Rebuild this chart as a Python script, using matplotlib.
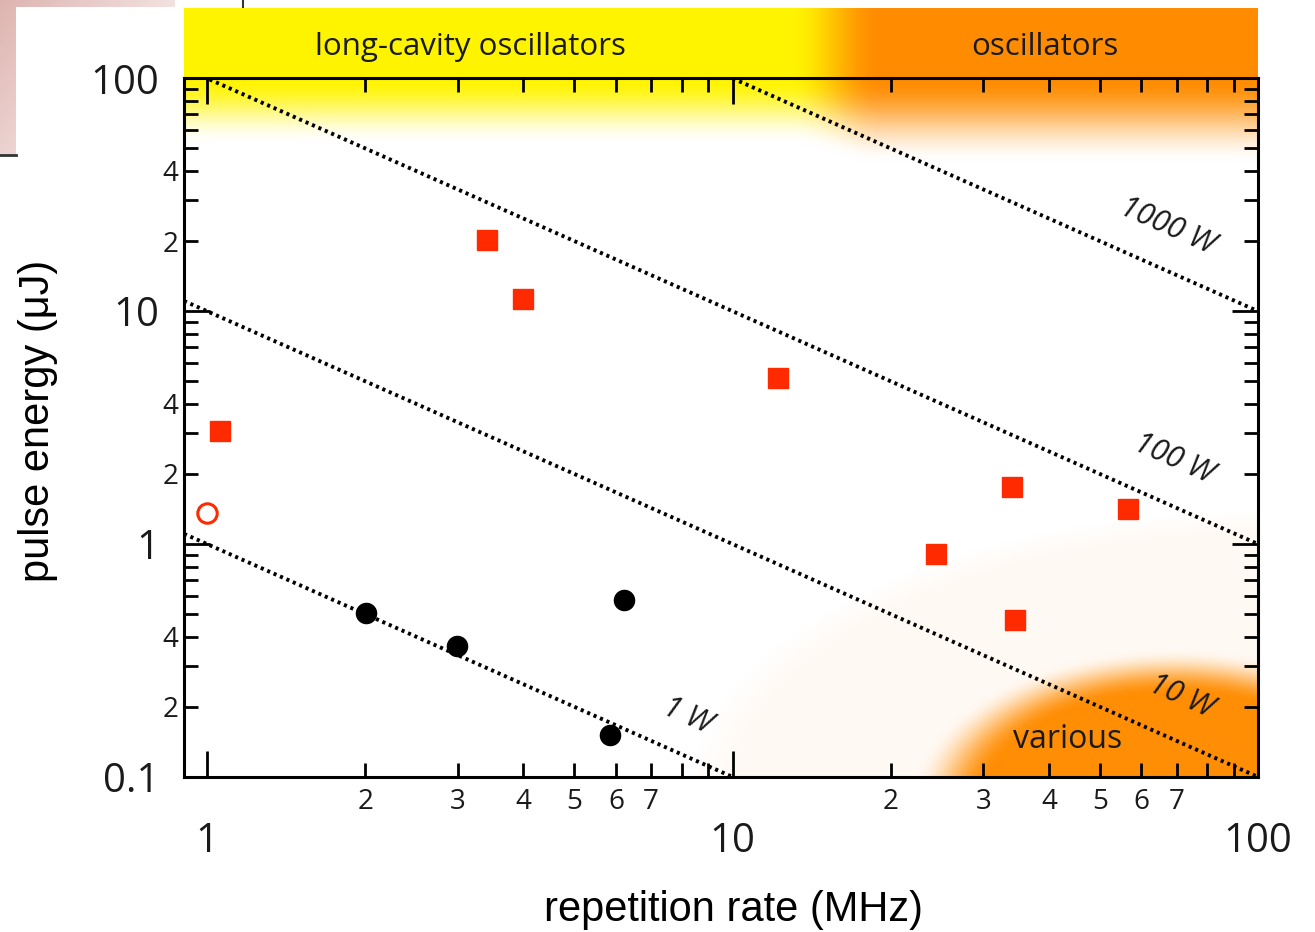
#!/usr/bin/env python3
"""
plot.py - Pulse energy vs repetition rate (log-log) with constant power lines.
"""
import numpy as np
import matplotlib
matplotlib.use("Agg")
import matplotlib.pyplot as plt
from matplotlib.patches import Rectangle
from matplotlib.lines import Line2D

W_PX, H_PX = 1315, 932

# axis range
X_LIM = (0.904, 100)
Y_LIM = (0.0999, 100.3)

# constant average power lines (W) and their labels
POWERS = [1, 10, 100, 1000]
POWER_LABELS = ["1 W", "10 W", "100 W", "1000 W"]
POWER_LABEL_X = [8.2, 71.4, 69.2, 67.1]
POWER_LABEL_Y = [0.182, 0.222, 2.32, 23.1]

# red filled squares (MHz, uJ)
sq_rate = [1.06, 3.41, 3.99, 12.2, 24.4, 34.1, 34.5, 56.6]
sq_energy = [3.06, 20.2, 11.3, 5.18, 0.905, 1.76, 0.471, 1.41]

# red open circle
oc_rate = [1.0]
oc_energy = [1.36]

# black filled circles
bc_rate = [2.01, 2.99, 5.84, 6.21]
bc_energy = [0.505, 0.364, 0.152, 0.574]

# tick labels
x_major = [1, 10, 100]
x_major_labels = ["1", "10", "100"]
x_minor = [2, 3, 4, 5, 6, 7, 8, 9, 20, 30, 40, 50, 60, 70, 80, 90]
x_minor_labels = ["2", "3", "4", "5", "6", "7", "", "", "2", "3", "4", "5", "6", "7", "", ""]
y_major = [0.1, 1, 10, 100]
y_major_labels = ["0.1", "1", "10", "100"]
y_minor = [m * d for d in (0.1, 1, 10) for m in range(2, 10)]
y_minor_labels = [{2: "2", 4: "4"}.get(m, "") for d in (0.1, 1, 10) for m in range(2, 10)]

YELLOW = np.array([255, 244, 0]) / 255
ORANGE = np.array([255, 140, 0]) / 255
CREAM = np.array([255, 249, 243]) / 255
RED = "#ff2a00"

TICK_FONT = "Open Sans"
LABEL_FONT = "Liberation Sans"


def fx(px):
    return px / W_PX


def fy(py):
    return 1 - py / H_PX


def smoothstep(t):
    t = np.clip(t, 0, 1)
    return t * t * (3 - 2 * t)


def background_image(w, h, x0):
    """Fondo del área de ejes: degradado superior y manchas abajo a la derecha."""
    px, py = np.meshgrid(np.arange(w) + 0.5, np.arange(h) + 0.5)
    img = np.ones((h, w, 3))

    # crema tenue
    d = np.sqrt(((px - w) / 570) ** 2 + ((py - (h + 25)) / 290) ** 2)
    a = np.clip((1 - d) / 0.08, 0, 1)[..., None]
    img = img * (1 - a) + CREAM * a

    # mancha naranja "various"
    d = np.sqrt(((px - 990) / 265) ** 2 + ((py - (h + 30)) / 158) ** 2)
    a = (smoothstep((1 - d) / 0.28) * 0.98)[..., None]
    img = img * (1 - a) + ORANGE * a

    # degradado superior amarillo -> naranja
    t = smoothstep((px + x0 - 790) / 90)[..., None]
    col = YELLOW * (1 - t) + ORANGE * t
    fade = 66 + 20 * t[..., 0]
    a = (1 - smoothstep(py / fade))[..., None]
    img = img * (1 - a) + col * a
    return img


def band_image(w, x0):
    px = np.arange(w) + 0.5
    t = smoothstep((px + x0 - 790) / 90)[:, None]
    row = YELLOW * (1 - t) + ORANGE * t
    return row[None, :, :]


def main():
    fig = plt.figure(figsize=(W_PX / 100, H_PX / 100), dpi=100)
    fig.patch.set_facecolor("white")

    # restos de diapositiva arriba a la izquierda (por debajo de todo)
    pink = fig.add_axes([0, fy(155), fx(175), 155 / H_PX])
    pink.set_zorder(-3)
    gx, gy = np.meshgrid(np.linspace(0, 1, 50), np.linspace(0, 1, 50))
    s = np.clip(1 - 0.6 * gx - 0.4 * gy, 0, 1)[..., None]
    pink_col = np.array([222, 180, 176]) / 255
    pink.imshow(np.ones((50, 50, 3)) * (1 - s) + pink_col * s, aspect="auto", extent=(0, 1, 0, 1))
    pink.axis("off")
    fig.patches.append(Rectangle((fx(16), fy(155)), fx(175) - fx(16), fy(7) - fy(155),
                                 transform=fig.transFigure, facecolor="white", edgecolor="none",
                                 zorder=-2))
    fig.lines.append(Line2D([0, fx(16)], [fy(155), fy(155)], transform=fig.transFigure,
                            color="#333333", lw=2, zorder=-1))
    fig.lines.append(Line2D([fx(243), fx(243)], [1, fy(7)], transform=fig.transFigure,
                            color="#333333", lw=1.5, zorder=-1))

    ax_l, ax_r, ax_t, ax_b = 184, 1258, 78, 777
    pos = [fx(ax_l), fy(ax_b), fx(ax_r) - fx(ax_l), fy(ax_t) - fy(ax_b)]

    # banda superior
    band = fig.add_axes([fx(ax_l), fy(ax_t), fx(ax_r) - fx(ax_l), fy(8) - fy(ax_t)])
    band.imshow(band_image(ax_r - ax_l, ax_l), aspect="auto", extent=(0, 1, 0, 1))
    band.set_xlim(0, 1)
    band.set_ylim(0, 1)
    band.axis("off")
    band.text((470 - ax_l) / (ax_r - ax_l), 0.44, "long-cavity oscillators", ha="center", va="center",
              fontsize=22.5, family=TICK_FONT, color="#1a1a1a")
    band.text((1045 - ax_l) / (ax_r - ax_l), 0.44, "oscillators", ha="center", va="center",
              fontsize=22.5, family=TICK_FONT, color="#1a1a1a")

    # fondo de los ejes
    bg = fig.add_axes(pos)
    bg.imshow(background_image(ax_r - ax_l, ax_b - ax_t, ax_l), aspect="auto", extent=(0, 1, 0, 1))
    bg.axis("off")

    ax = fig.add_axes(pos)
    ax.set_facecolor("none")
    ax.set_xscale("log")
    ax.set_yscale("log")
    ax.set_xlim(*X_LIM)
    ax.set_ylim(*Y_LIM)

    f = np.geomspace(X_LIM[0], X_LIM[1], 200)
    for p, lab, lx, ly in zip(POWERS, POWER_LABELS, POWER_LABEL_X, POWER_LABEL_Y):
        ax.plot(f, p / f, color="black", lw=2.8, linestyle=(0, (0.8, 1.0)), zorder=2)
        ax.text(lx, ly, lab, rotation=-24, ha="center", va="center", rotation_mode="anchor",
                fontsize=22, family=TICK_FONT, style="italic", color="#1a1a1a", zorder=3)
    ax.text(43.4, 0.145, "various", ha="center", va="center", fontsize=23,
            family=TICK_FONT, color="#1a1a1a", zorder=3)

    ax.plot(sq_rate, sq_energy, "s", ms=15, color=RED, mec=RED, zorder=4, clip_on=False)
    ax.plot(oc_rate, oc_energy, "o", ms=14, mfc="none", mec=RED, mew=2.2, zorder=4, clip_on=False)
    ax.plot(bc_rate, bc_energy, "o", ms=14.5, color="black", zorder=4)

    ax.set_xticks(x_major)
    ax.set_xticklabels(x_major_labels)
    ax.set_xticks(x_minor, minor=True)
    ax.set_xticklabels(x_minor_labels, minor=True)
    ax.set_yticks(y_major)
    ax.set_yticklabels(y_major_labels)
    ax.set_yticks(y_minor, minor=True)
    ax.set_yticklabels(y_minor_labels, minor=True)

    ax.tick_params(which="both", direction="in", top=True, right=True, width=2, color="black")
    ax.tick_params(which="major", length=19, labelsize=29)
    ax.tick_params(which="minor", length=10, labelsize=20)
    ax.tick_params(axis="x", which="major", pad=32)
    ax.tick_params(axis="x", which="minor", pad=8)
    ax.tick_params(axis="y", which="major", pad=18)
    ax.tick_params(axis="y", which="minor", pad=4)
    for lab in ax.get_xticklabels(which="both") + ax.get_yticklabels(which="both"):
        lab.set_family(TICK_FONT)
        lab.set_color("#1a1a1a")
    for sp in ax.spines.values():
        sp.set_linewidth(2.2)
        sp.set_zorder(5)

    fig.text(fx(734), fy(910), "repetition rate (MHz)", ha="center", va="center",
             fontsize=30, family=LABEL_FONT)
    fig.text(fx(38), fy(421), "pulse energy (\u03bcJ)", ha="center", va="center",
             rotation=90, fontsize=30, family=LABEL_FONT)

    fig.savefig("out.png", dpi=100)
    plt.close(fig)


if __name__ == "__main__":
    main()
